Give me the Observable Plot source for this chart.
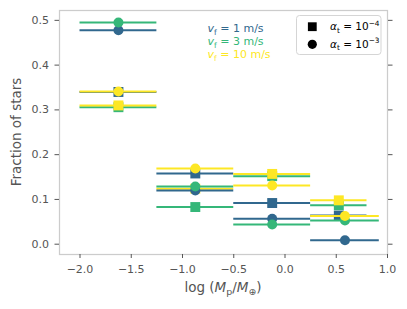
<!DOCTYPE html>
<html><head><meta charset="utf-8">
<script src="https://cdn.jsdelivr.net/npm/d3@7"></script>
<script src="https://cdn.jsdelivr.net/npm/@observablehq/plot@0.6"></script>
<style>body{margin:0;background:#fff;font-family:"DejaVu Sans";}</style>
</head><body><div id="chart"></div>
<script>
// Bins in log(Mp/Mearth)
const binLo   = [-2.0, -1.25, -0.5, 0.25];
const binHiA4 = [-1.25, -0.5, 0.25, 0.80];
const binHiA3 = [-1.25, -0.5, 0.25, 0.92];
// Fraction of stars per series
const fracV1A4  = [0.340, 0.158, 0.092, 0.064];
const fracV3A4  = [0.306, 0.083, 0.152, 0.087];
const fracV10A4 = [0.310, 0.124, 0.157, 0.098];
const fracV1A3  = [0.478, 0.120, 0.057, 0.009];
const fracV3A3  = [0.495, 0.129, 0.044, 0.053];
const fracV10A3 = [0.341, 0.169, 0.131, 0.063];
const velocityLabels = ["1 m/s", "3 m/s", "10 m/s"];
const seriesColors = ["#31688e", "#35b779", "#fde725"];
const alphaExponents = ["−4", "−3"];
const xTicks = [-2, -1.5, -1, -0.5, 0, 0.5, 1];
const yTicks = [0, 0.1, 0.2, 0.3, 0.4, 0.5];

const groups = [
  {alpha: 0, symbol: "square", r: 5.6, hi: binHiA4, vals: [fracV1A4, fracV3A4, fracV10A4]},
  {alpha: 1, symbol: "circle", r: 5.0, hi: binHiA3, vals: [fracV1A3, fracV3A3, fracV10A3]}
];

const marks = [Plot.frame({stroke: "#cccccc", strokeWidth: 1.25})];
for (const g of groups) {
  g.vals.forEach((arr, si) => {
    const rows = arr.map((f, i) => ({lo: binLo[i], hi: g.hi[i], mid: (binLo[i] + g.hi[i]) / 2, frac: f}));
    marks.push(Plot.ruleY(rows, {y: "frac", x1: "lo", x2: "hi", stroke: seriesColors[si], strokeWidth: 2}));
    marks.push(Plot.dot(rows, {x: "mid", y: "frac", symbol: g.symbol, r: g.r, fill: seriesColors[si], stroke: "none"}));
  });
}
const fmt = d3.format(".1f");
marks.push(
  Plot.axisX({ticks: xTicks, tickFormat: fmt, tickSize: 4, tickPadding: 7, label: null, stroke: "#555", fill: "#555"}),
  Plot.axisY({anchor: "left", ticks: yTicks, tickFormat: fmt, tickSize: 4.5, tickPadding: 6, label: null, stroke: "#555", fill: "#555"}),
  Plot.axisY({anchor: "right", ticks: yTicks, tickFormat: () => "", tickSize: 4.5, label: null, stroke: "#555"})
);

const chart = Plot.plot({
  width: 407, height: 309,
  marginLeft: 59, marginRight: 20, marginTop: 10, marginBottom: 55,
  x: {domain: [-2.2, 1.0]},
  y: {domain: [-0.023, 0.522]},
  style: {fontFamily: "DejaVu Sans", fontSize: "11px", color: "#555", background: "white", overflow: "visible"},
  marks
});
document.getElementById("chart").appendChild(chart);

const svg = d3.select(chart);
function rich(parent, x, y, parts, attrs) {
  const t = parent.append("text").attr("x", x).attr("y", y).attr("text-anchor", "start");
  for (const [k, v] of Object.entries(attrs)) t.attr(k, v);
  const base = +attrs["font-size"];
  let shift = 0;
  for (const p of parts) {
    const ts = t.append("tspan").text(p.t);
    let target = p.sub ? base * 0.25 : p.sup ? -base * 0.4 : 0;
    if (target !== shift) { ts.attr("dy", target - shift); shift = target; }
    if (p.sub || p.sup) ts.attr("font-size", base * 0.7);
    if (p.it) ts.attr("font-style", "italic");
  }
  return t;
}
const ann = svg.append("g");
// axis labels
rich(ann, 223, 292, [{t: "log ("}, {t: "M", it: 1}, {t: "p", sub: 1}, {t: "/"}, {t: "M", it: 1}, {t: "⊕", sub: 1}, {t: ")"}],
  {"font-size": 13.5, "text-anchor": "middle", fill: "#555"});
rich(ann, 0, 0, [{t: "Fraction of stars"}],
  {"font-size": 13.5, "text-anchor": "middle", fill: "#555", transform: "translate(21,132) rotate(-90)"});
// velocity annotations
velocityLabels.forEach((lab, i) => {
  rich(ann, 207.5, 32.3 + i * 13, [{t: "v", it: 1}, {t: "f", sub: 1}, {t: " = " + lab}],
    {"font-size": 11, fill: seriesColors[i]});
});
// legend
const leg = svg.append("g");
leg.append("rect").attr("x", 296.5).attr("y", 15.5).attr("width", 84.5).attr("height", 39)
  .attr("rx", 3).attr("fill", "white").attr("fill-opacity", 0.8).attr("stroke", "#d5d5d5").attr("stroke-width", 1);
leg.append("rect").attr("x", 312.3 - 4.4).attr("y", 26.7 - 4.4).attr("width", 8.8).attr("height", 8.8).attr("fill", "black");
leg.append("circle").attr("cx", 312.3).attr("cy", 44.3).attr("r", 4.6).attr("fill", "black");
alphaExponents.forEach((e, i) => {
  rich(leg, 330, 30 + i * 17.6, [{t: "α", it: 1}, {t: "t", sub: 1}, {t: " = 10"}, {t: e, sup: 1}],
    {"font-size": 10.5, fill: "black"});
});
</script></body></html>
